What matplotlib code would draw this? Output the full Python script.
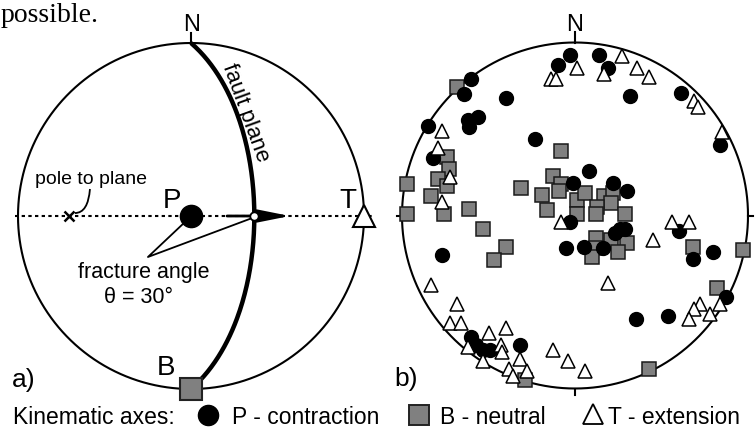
from __future__ import annotations

import matplotlib

matplotlib.use("Agg")
import matplotlib.pyplot as plt  # noqa: E402
import numpy as np  # noqa: E402
from matplotlib.patches import PathPatch  # noqa: E402
from matplotlib.path import Path  # noqa: E402

plt.rcParams["font.family"] = ["Liberation Sans", "DejaVu Sans"]

W, H = 755, 430
R_PX = 173  # net radius in pixels

# a) one fault, axes given as (trend, plunge) in degrees, lower hemisphere
FAULT_STRIKE, FAULT_DIP = 0, 60
P_AXIS = (0, 90)
B_AXIS = (180, 0)
T_AXIS = (90, 0)
POLE = (270, 30)
SLIP = (90, 60)

# b) measured kinematic axes, read off the net (x = east, y = north, radius 1)
p_x = [-0.03, -0.10, 0.14, 0.19, -0.60, -0.64, -0.40, -0.56, -0.62, -0.61,
       -0.85, -0.23, -0.82, 0.32, 0.61, 0.84, 0.08, -0.01, 0.22, 0.30,
       -0.03, 0.23, 0.26, 0.29, -0.05, 0.05, 0.16, 0.60, 0.68, 0.80,
       0.87, 0.35, 0.54, -0.77, -0.60, -0.57, -0.53, -0.49, -0.32]
p_y = [0.93, 0.87, 0.93, 0.85, 0.79, 0.70, 0.68, 0.57, 0.55, 0.51,
       0.52, 0.44, 0.33, 0.69, 0.71, 0.41, 0.26, 0.19, 0.19, 0.14,
       -0.04, -0.10, -0.08, -0.08, -0.19, -0.18, -0.19, -0.09, -0.25, -0.21,
       -0.47, -0.60, -0.58, -0.23, -0.70, -0.75, -0.78, -0.78, -0.75]

b_x = [-0.68, -0.08, -0.74, -0.73, -0.79, -0.74, -0.97, -0.83, -0.97, -0.76,
       -0.61, -0.31, -0.13, -0.19, -0.16, -0.08, -0.09, 0.01, 0.06, 0.01,
       0.17, 0.22, 0.21, 0.13, 0.12, 0.29, 0.12, 0.21, 0.30, 0.12,
       0.10, 0.25, -0.53, -0.40, -0.47, 0.68, 0.97, 0.82, 0.43, -0.29]
b_y = [0.74, 0.37, 0.34, 0.27, 0.21, 0.17, 0.18, 0.11, 0.01, 0.01,
       0.04, 0.16, 0.23, 0.12, 0.03, 0.18, 0.14, 0.09, 0.13, 0.01,
       0.11, 0.13, 0.07, 0.05, 0.01, 0.01, -0.13, -0.14, -0.16, -0.19,
       -0.24, -0.21, -0.08, -0.18, -0.26, -0.18, -0.20, -0.42, -0.89, -0.95]

t_x = [0.01, -0.14, -0.11, 0.27, 0.17, 0.36, 0.43, 0.69, 0.71, 0.85,
       -0.77, -0.79, -0.72, -0.77, -0.08, 0.45, 0.56, 0.66, 0.19, 0.72,
       0.84, 0.69, 0.78, 0.66, -0.83, -0.68, -0.72, -0.66, -0.62, -0.50,
       -0.40, -0.43, -0.42, -0.53, -0.32, -0.38, -0.36, -0.28, -0.13, -0.04,
       0.06]
t_y = [0.85, 0.79, 0.79, 0.92, 0.82, 0.85, 0.80, 0.66, 0.63, 0.48,
       0.49, 0.39, 0.22, 0.08, -0.04, -0.14, -0.04, -0.04, -0.39, -0.51,
       -0.51, -0.54, -0.57, -0.60, -0.40, -0.51, -0.62, -0.62, -0.76, -0.68,
       -0.65, -0.75, -0.79, -0.84, -0.83, -0.89, -0.93, -0.90, -0.78, -0.84,
       -0.90]

GRAY = "#808080"


def project(trend, plunge):
    # Schmidt (equal-area) projection, lower hemisphere
    t = np.radians(trend)
    r = np.sqrt(2) * np.sin(np.radians(90 - np.asarray(plunge)) / 2)
    return r * np.sin(t), r * np.cos(t)


def great_circle(strike, dip, n=181):
    s, d = np.radians(strike), np.radians(dip)
    a = np.linspace(0, np.pi, n)
    sv = np.array([np.sin(s), np.cos(s), 0.0])
    dv = np.array([np.cos(d) * np.sin(s + np.pi / 2), np.cos(d) * np.cos(s + np.pi / 2), np.sin(d)])
    v = np.outer(np.cos(a), sv) + np.outer(np.sin(a), dv)
    trend = np.degrees(np.arctan2(v[:, 0], v[:, 1]))
    plunge = np.degrees(np.arcsin(np.clip(v[:, 2], -1, 1)))
    return project(trend, plunge)


def net_axes(fig, cx, cy):
    half = 1.1 * R_PX
    ax = fig.add_axes([(cx - half) / W, (H - cy - half) / H, 2 * half / W, 2 * half / H])
    ax.set_xlim(-1.1, 1.1)
    ax.set_ylim(-1.1, 1.1)
    ax.axis("off")
    th = np.linspace(0, 2 * np.pi, 361)
    ax.plot(np.cos(th), np.sin(th), color="k", lw=1.5, clip_on=False)
    ax.plot([0, 0], [1, 1.06], color="k", lw=1.5, clip_on=False)
    return ax


fig = plt.figure(figsize=(W / 100, H / 100), dpi=100)

# ---- a) ----
ax_a = net_axes(fig, 191, 216)
ax_a.plot([-1.02, 1.06], [0, 0], color="k", lw=1.5, ls=(0, (1.6, 1.6)), clip_on=False)
fx, fy = great_circle(FAULT_STRIKE, FAULT_DIP)
ax_a.plot(fx, fy, color="k", lw=3.2, solid_capstyle="butt", zorder=3)
sx, sy = project(*SLIP)
ax_a.annotate("", xy=(0.572, 0), xytext=(0.208, 0),
              arrowprops=dict(arrowstyle="-|>,head_length=1.9,head_width=0.38",
                              mutation_scale=10, lw=2.0, color="k", shrinkA=0, shrinkB=0))
ax_a.plot(sx, sy, "o", ms=6, mfc="white", mec="k", mew=1.3, zorder=6)
ax_a.plot(*project(*P_AXIS), "o", ms=16, color="k", zorder=5)
ax_a.plot(*project(*T_AXIS), "^", ms=16, mfc="white", mec="k", mew=1.5, zorder=5, clip_on=False)
ax_a.plot(*project(*B_AXIS), "s", ms=16, mfc=GRAY, mec="#222222", mew=1.5, zorder=5, clip_on=False)
ax_a.plot(*project(*POLE), "x", ms=7, mew=1.8, color="k", zorder=5)
# fracture angle pointer
ax_a.plot([-0.035, -0.249, 0.353], [-0.035, -0.237, -0.012], color="k", lw=1.3)
# curved leader from "pole to plane"
leader = Path([(-0.584, 0.156), (-0.595, 0.017), (-0.671, 0.017)], [Path.MOVETO, Path.CURVE3, Path.CURVE3])
ax_a.add_patch(PathPatch(leader, fc="none", ec="k", lw=1.3))

# ---- b) ----
ax_b = net_axes(fig, 575, 215.5)
ax_b.plot([0, 0], [-1, -1.035], color="k", lw=1.5, clip_on=False)
ax_b.plot([-1, -1.03], [0, 0], color="k", lw=1.5, clip_on=False)
ax_b.plot([1, 1.03], [0, 0], color="k", lw=1.5, clip_on=False)
ax_b.plot(b_x, b_y, "s", ms=9.5, mfc=GRAY, mec="#1a1a1a", mew=1.1, ls="none", clip_on=False, zorder=3)
ax_b.plot(p_x, p_y, "o", ms=10, color="k", ls="none", clip_on=False, zorder=4)
ax_b.plot(t_x, t_y, "^", ms=10.5, mfc="white", mec="k", mew=1.1, ls="none", clip_on=False, zorder=5)

# ---- text and legend (pixel overlay) ----
ov = fig.add_axes([0, 0, 1, 1])
ov.set_xlim(0, W)
ov.set_ylim(H, 0)
ov.axis("off")

ov.text(1, 22, "possible.", family=["Liberation Serif", "DejaVu Serif"], fontsize=20, va="baseline")
ov.text(192, 31, "N", fontsize=17, ha="center", va="baseline")
ov.text(575, 31, "N", fontsize=17, ha="center", va="baseline")
ov.text(172, 208, "P", fontsize=20, ha="center", va="baseline")
ov.text(348, 208, "T", fontsize=20, ha="center", va="baseline")
ov.text(166, 375, "B", fontsize=20, ha="center", va="baseline")
ov.text(91, 184, "pole to plane", fontsize=14, ha="center", va="baseline")
ov.text(144, 278, "fracture angle", fontsize=15.5, ha="center", va="baseline")
ov.text(138, 303, "θ = 30°", fontsize=15.5, ha="center", va="baseline")
ov.text(246, 113, "fault plane", fontsize=16, ha="center", va="center", rotation=-70, rotation_mode="anchor")
ov.text(12, 387, "a)", fontsize=19, ha="left", va="baseline")
ov.text(394, 386, "b)", fontsize=19, ha="left", va="baseline")

LEG_Y = 424  # legend baseline (px from top)
ov.text(13, LEG_Y, "Kinematic axes:", fontsize=16.5, va="baseline")
ov.plot(208, LEG_Y - 9, "o", ms=14.5, color="k", clip_on=False)
ov.text(232, LEG_Y, "P - contraction", fontsize=16.5, va="baseline")
ov.plot(419, LEG_Y - 9, "s", ms=15, mfc=GRAY, mec="#222222", mew=1.4, clip_on=False)
ov.text(440, LEG_Y, "B - neutral", fontsize=16.5, va="baseline")
ov.plot(593, LEG_Y - 10, "^", ms=15, mfc="white", mec="k", mew=1.3, clip_on=False)
ov.text(608, LEG_Y, "T - extension", fontsize=16.5, va="baseline")

fig.savefig("out.png", dpi=100)
